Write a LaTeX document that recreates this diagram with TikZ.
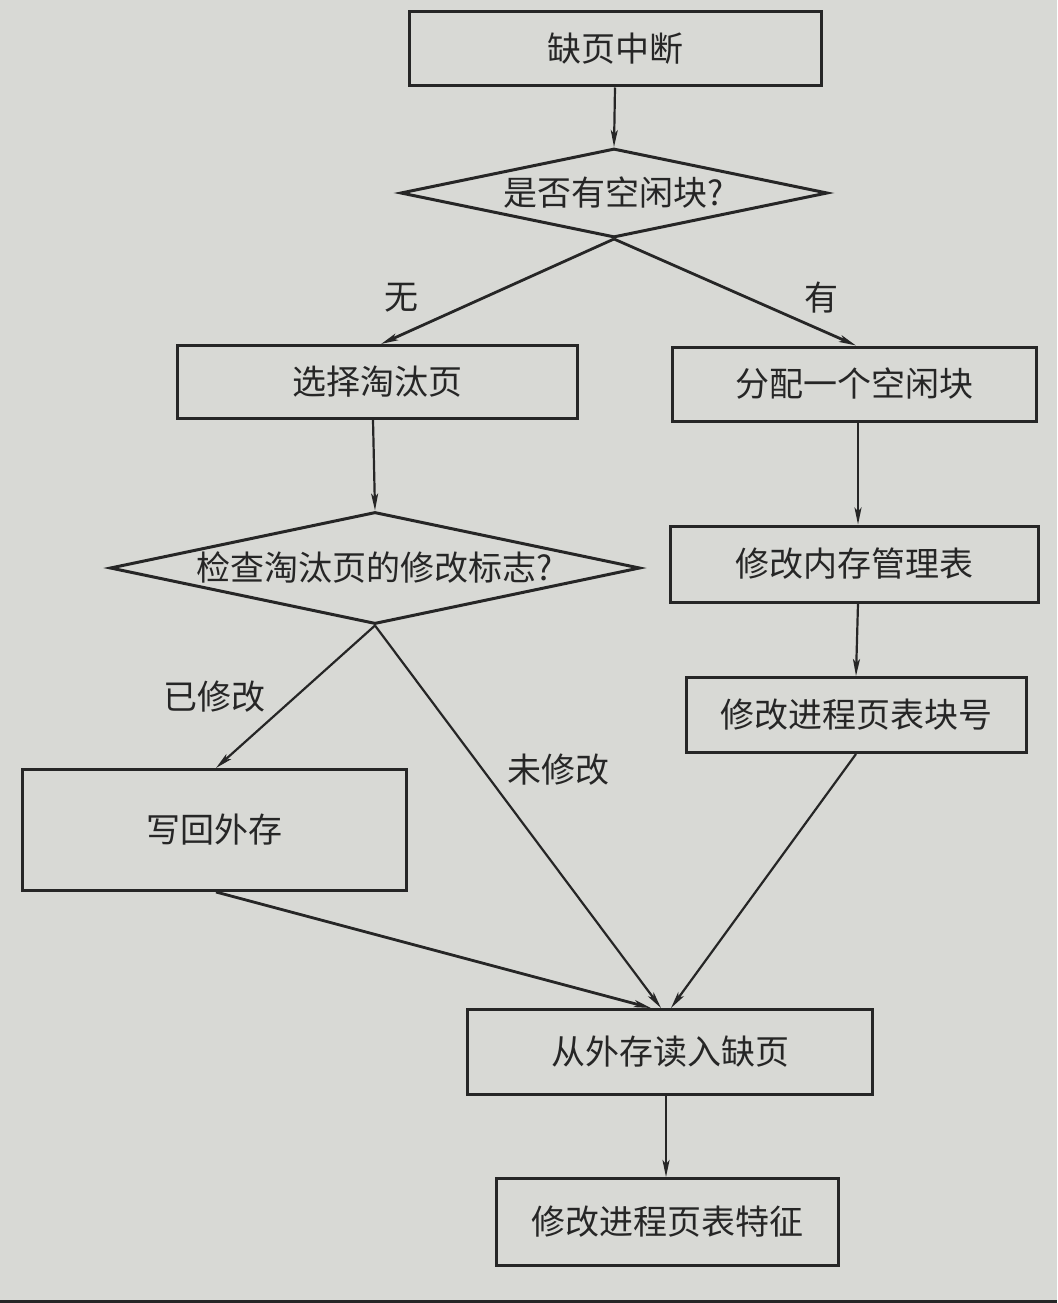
\documentclass[tikz,border=0pt]{standalone}
\usepackage{fontspec}
\newfontfamily\cjk{Noto Sans CJK SC}
\usetikzlibrary{shapes.geometric,arrows.meta,calc}
\definecolor{paper}{RGB}{216,217,213}
\definecolor{ink}{RGB}{38,38,38}
\tikzset{
  box/.style={draw=ink, line width=3pt, rectangle, inner sep=0pt, font=\cjk\fontsize{34}{34}\selectfont, text=ink},
  dia/.style={draw=ink, line width=3pt, diamond, inner sep=0pt, font=\cjk\fontsize{34}{34}\selectfont, text=ink},
  lbl/.style={font=\cjk\fontsize{34}{34}\selectfont, text=ink, inner sep=0pt},
  arr/.style={draw=ink, line width=2.2pt, -{Stealth[length=17pt,width=7pt,inset=4pt]}},
}
\begin{document}
\begin{tikzpicture}[x=1pt,y=-1pt]
\fill[paper] (0,0) rectangle (1057,1303);
\fill[black!85] (0,1300) rectangle (1057,1303);
\useasboundingbox (0,0) rectangle (1057,1303);

\node[box, minimum width=412pt, minimum height=74pt] (start) at (615,49) {缺页中断};
\node[dia, minimum width=427pt, minimum height=89pt, aspect=4.8] (d1) at (614,193) {是否有空闲块?};
\node[box, minimum width=400pt, minimum height=73pt] (sel) at (377,382) {选择淘汰页};
\node[box, minimum width=364pt, minimum height=74pt] (alloc) at (854,384) {分配一个空闲块};
\node[dia, minimum width=530pt, minimum height=112pt, aspect=4.73] (d2) at (375,568) {检查淘汰页的修改标志?};
\node[box, minimum width=368pt, minimum height=76pt] (mem) at (854,564) {修改内存管理表};
\node[box, minimum width=340pt, minimum height=75pt] (blk) at (856,715) {修改进程页表块号};
\node[box, minimum width=384pt, minimum height=121pt] (wb) at (214,830) {写回外存};
\node[box, minimum width=405pt, minimum height=85pt] (rd) at (670,1052) {从外存读入缺页};
\node[box, minimum width=342pt, minimum height=87pt] (feat) at (667,1222) {修改进程页表特征};

\node[lbl] (lno) at (401,298) {无};
\node[lbl] (lyes) at (821,298) {有};
\node[lbl] (lmod) at (214,697) {已修改};
\node[lbl] (lunmod) at (558,770) {未修改};

\draw[arr] (start.south) -- (d1.north);
\draw[arr, line width=2.8pt] (d1.south) -- ([xshift=4pt]sel.north);
\draw[arr, line width=2.8pt] (d1.south) -- ([xshift=2pt]alloc.north);
\draw[arr] ([xshift=-4pt]sel.south) -- (d2.north);
\draw[arr] ([xshift=4pt]alloc.south) -- ([xshift=4pt]mem.north);
\draw[arr] ([xshift=4pt]mem.south) -- (blk.north);
\draw[arr] (d2.south) -- ([xshift=2pt]wb.north);
\draw[arr] (d2.south) -- ([xshift=-9pt]rd.north);
\draw[arr, line width=2.8pt] ([xshift=2pt]wb.south) -- ([xshift=-19pt]rd.north);
\draw[arr] (blk.south) -- ([xshift=1pt]rd.north);
\draw[arr] ([xshift=-4pt]rd.south) -- ([xshift=-1pt]feat.north);
\end{tikzpicture}
\end{document}
